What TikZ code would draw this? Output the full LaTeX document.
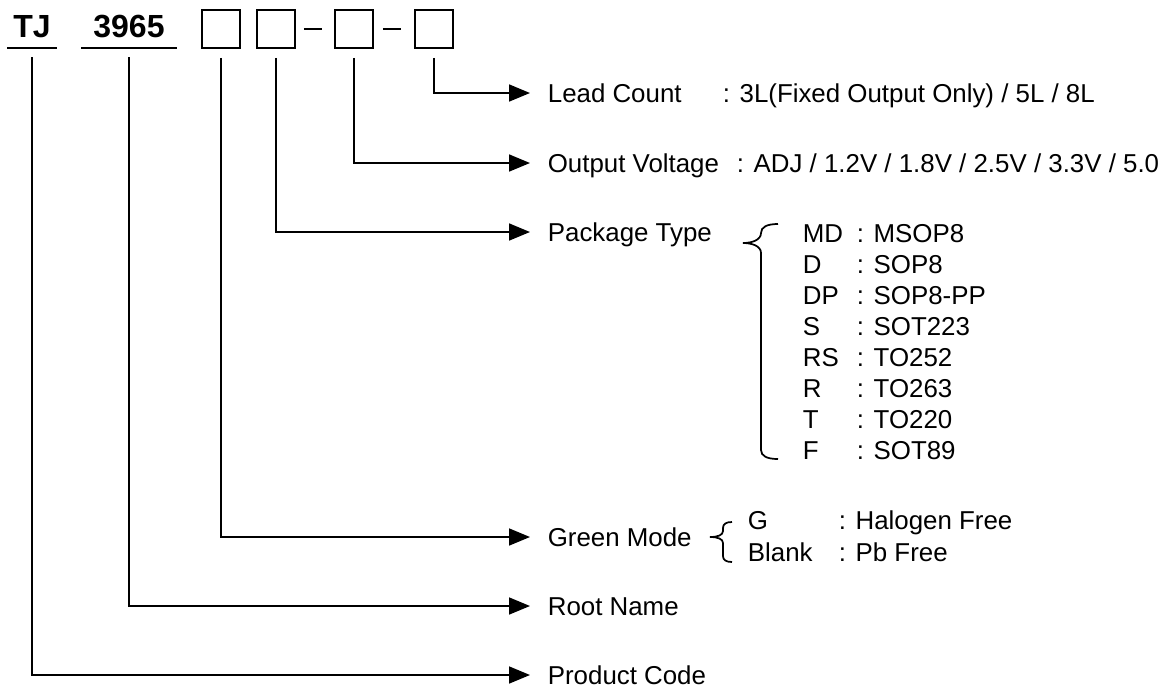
\documentclass[tikz,border=0pt]{standalone}
\usepackage{fontspec}
\setmainfont{Liberation Sans}
\usetikzlibrary{arrows.meta}

\newcommand{\fieldfont}{\fontsize{19.4pt}{23pt}\selectfont}
\newcommand{\partfont}{\fontsize{24pt}{28pt}\selectfont\bfseries}

\begin{document}
\begin{tikzpicture}[
    x=0.75pt, y=-0.75pt,
    line width=1.3pt,
    partbox/.style={rectangle, draw, minimum size=28.5pt, inner sep=0pt},
    partcode/.style={anchor=south, font=\partfont, inner xsep=0pt, inner ysep=7.5pt, text height=17.25pt, text depth=0pt},
    fieldname/.style={anchor=west, font=\fieldfont, inner xsep=12.75pt, inner ysep=0pt, text height=13.9pt, text depth=0pt},
    item/.style={anchor=west, font=\fieldfont, inner sep=0pt, text height=13.9pt, text depth=0pt},
    pointer/.style={-{Triangle[length=15.75pt, width=12.75pt]}}
]
    \useasboundingbox (0,0) rectangle (1171,690);

    % Part number
    \node[partcode, minimum width=36pt] (tj) at (32,48) {TJ};
    \node[partcode, minimum width=70.5pt] (root) at (129,48) {3965};
    \draw (tj.south west) -- (tj.south east);
    \draw (root.south west) -- (root.south east);
    \node[partbox] (b1) at (221,29) {};
    \node[partbox] (b2) at (276,29) {};
    \node[partbox] (b3) at (354,29) {};
    \node[partbox] (b4) at (434,29) {};
    \draw ([xshift=6pt]b2.east) -- ([xshift=-9pt]b3.west);
    \draw ([xshift=6.75pt]b3.east) -- ([xshift=-9.75pt]b4.west);

    % Field names
    \node[fieldname] (lead) at (530,93) {Lead Count};
    \node[fieldname] (volt) at (530,163) {Output Voltage};
    \node[fieldname] (pkg) at (530,232) {Package Type};
    \node[fieldname] (green) at (530,537) {Green Mode};
    \node[fieldname] (rname) at (530,606) {Root Name};
    \node[fieldname] (pcode) at (530,675) {Product Code};

    % Values
    \node[item] (leadval) at (722,93) {: 3L(Fixed Output Only) / 5L / 8L};
    \node[item] (voltval) at (736,163) {: ADJ / 1.2V / 1.8V / 2.5V / 3.3V / 5.0};
    \foreach \pc/\pn [count=\i from 0] in {MD/MSOP8, D/SOP8, DP/SOP8-PP, S/SOT223, RS/TO252, R/TO263, T/TO220, F/SOT89} {
        \node[item] (pc\i) at (802,233+31*\i) {\pc};
        \node[item] (pn\i) at (856,233+31*\i) {: \pn};
    }
    \node[item] (gcode) at (747,520) {G};
    \node[item] (gval) at (838,520) {: Halogen Free};
    \node[item] (bcode) at (747,552) {Blank};
    \node[item] (bval) at (838,552) {: Pb Free};

    % Braces
    \draw (778,224) .. controls (767,224) and (761,227) .. (761,233)
        .. controls (761,240) and (752,243) .. (743,243)
        .. controls (752,243) and (761,246) .. (761,253) -- (761,450)
        .. controls (761,456) and (767,459) .. (778,459);
    \draw (732,522) .. controls (726,522) and (723,524) .. (723,528) -- (723,531)
        .. controls (723,535) and (718,537) .. (710,537)
        .. controls (718,537) and (723,539) .. (723,543) -- (723,556)
        .. controls (723,560) and (726,562) .. (732,562);

    % Pointers
    \draw[pointer] ([yshift=-6.75pt]b4.south) |- (lead.west);
    \draw[pointer] ([yshift=-6.75pt]b3.south) |- (volt.west);
    \draw[pointer] ([yshift=-6.75pt]b2.south) |- (pkg.west);
    \draw[pointer] ([yshift=-6.75pt]b1.south) |- (green.west);
    \draw[pointer] ([yshift=-6.75pt]root.south) |- (rname.west);
    \draw[pointer] ([yshift=-6.75pt]tj.south) |- (pcode.west);
\end{tikzpicture}
\end{document}
